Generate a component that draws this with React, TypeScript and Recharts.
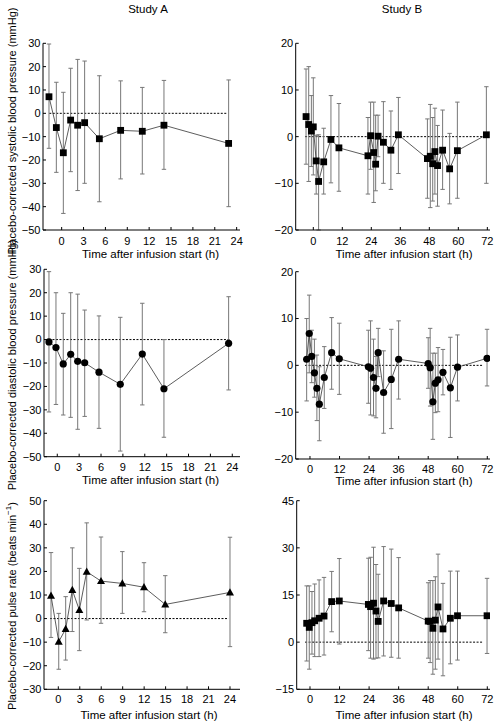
import React from 'react';
import { ComposedChart, Line, XAxis, YAxis, ErrorBar, ReferenceLine } from 'recharts';

// ---------- Study A ----------
const aSysTime = [-1.74, -0.73, 0.23, 1.23, 2.19, 3.15, 5.17, 8.09, 11.06, 14.03, 22.9];
const aSysMean = [7.1, -6.1, -16.9, -2.9, -5.1, -4.0, -10.9, -7.3, -7.7, -5.1, -12.9];
const aSysHigh = [29.7, 13.3, 9.0, 19.3, 23.1, 22.4, 16.1, 13.9, 11.1, 14.1, 14.3];
const aSysLow = [-15.0, -25.3, -42.9, -25.0, -33.1, -30.0, -37.9, -28.1, -26.0, -24.0, -40.0];

const aDiaTime = [-1.14, -0.18, 0.82, 1.84, 2.8, 3.76, 5.72, 8.64, 11.66, 14.63, 23.5];
const aDiaMean = [-1.0, -3.4, -10.4, -6.3, -9.3, -9.9, -13.9, -19.1, -6.2, -21.0, -1.6];
const aDiaHigh = [29.0, 20.0, 11.2, 20.0, 19.4, 12.6, 10.1, 9.5, 15.5, 0.0, 18.3];
const aDiaLow = [-30.9, -27.7, -32.2, -33.2, -38.3, -32.8, -37.9, -47.6, -27.9, -41.7, -21.5];

const aPulTime = [-1.02, 0.06, 1.03, 1.96, 2.94, 3.97, 5.97, 8.95, 11.98, 14.95, 24.0];
const aPulMean = [9.7, -9.8, -4.4, 12.1, 3.6, 19.9, 15.9, 14.9, 13.3, 6.0, 11.1];
const aPulHigh = [28.0, 2.2, 9.3, 30.0, 21.3, 40.6, 34.6, 28.4, 23.7, 18.2, 34.5];
const aPulLow = [-8.0, -21.5, -17.6, -5.5, -13.6, -0.6, -2.0, 2.2, 2.9, -6.0, -11.9];

// ---------- Study B ----------
const bSysTime = [-3.0, -1.9, -0.8, 0, 1.2, 2.2, 4.3, 7.3, 10.6, 22.6, 23.7, 25.0, 25.8, 26.8, 29.0, 32.1, 35.2, 47.2, 48.4, 49.4, 50.3, 51.4, 53.5, 56.4, 59.6, 71.6];
const bSysMean = [4.3, 2.6, 1.2, 2.1, -5.2, -9.6, -5.4, -0.6, -2.4, -4.1, 0.2, -3.4, -5.9, 0.1, -1.2, -2.9, 0.4, -4.7, -4.2, -5.8, -3.2, -6.2, -2.9, -6.9, -3.0, 0.4];
const bSysHigh = [14.5, 15.0, 8.8, 12.6, 0.3, 0.4, 1.8, 8.8, 7.1, 4.1, 7.4, 7.4, 4.6, 4.6, 7.5, 5.5, 8.4, 3.8, 6.9, 4.1, 6.1, 2.4, 5.7, 0.7, 7.4, 10.7];
const bSysLow = [-5.9, -9.6, -6.4, -8.2, -12.3, -20.0, -12.3, -9.9, -11.7, -12.3, -7.0, -14.1, -11.6, -4.3, -10.0, -11.3, -7.9, -13.2, -15.2, -13.8, -12.3, -14.9, -11.3, -14.4, -13.2, -10.0];

const bDiaTime = [-1.35, -0.3, 0.7, 1.8, 2.8, 3.8, 5.8, 8.8, 11.9, 23.7, 24.6, 25.8, 26.8, 27.7, 29.9, 33.0, 36.0, 48.0, 48.8, 49.9, 50.9, 52.0, 54.0, 57.0, 59.9, 71.9];
const bDiaMean = [1.3, 6.8, 1.9, -1.6, -4.9, -8.3, -2.6, 2.7, 1.4, -0.3, -0.6, -2.6, -4.9, 2.7, -5.8, -3.0, 1.3, 0.4, -0.5, -7.8, -3.8, -3.1, -1.5, -4.8, -0.4, 1.5];
const bDiaHigh = [10.0, 15.0, 7.5, 5.6, 2.2, -0.3, 4.0, 10.2, 9.0, 7.5, 9.5, 5.6, 1.9, 7.9, 3.1, 7.7, 9.5, 5.9, 7.9, 2.6, 2.6, 3.8, 3.4, 6.0, 6.5, 7.7];
const bDiaLow = [-7.6, -1.6, -3.7, -6.8, -11.8, -16.1, -9.2, -5.1, -6.2, -8.1, -10.6, -10.8, -11.2, -2.4, -14.5, -13.5, -7.2, -4.9, -8.7, -15.8, -10.1, -9.9, -6.3, -15.4, -7.6, -4.4];

const bPulTime = [-1.35, -0.3, 0.8, 1.9, 3.7, 5.7, 8.8, 11.9, 23.7, 24.6, 25.8, 26.8, 27.7, 29.9, 33.0, 36.0, 48.0, 48.8, 49.9, 50.9, 52.0, 54.0, 57.0, 59.9, 71.9];
const bPulMean = [6.0, 4.7, 6.2, 6.8, 7.6, 8.3, 12.9, 13.1, 12.0, 11.3, 12.4, 9.9, 6.6, 13.1, 12.3, 10.9, 6.7, 6.6, 4.4, 7.0, 11.2, 4.2, 7.6, 8.4, 8.4];
const bPulHigh = [17.9, 17.9, 16.1, 18.5, 19.8, 20.6, 22.5, 26.6, 26.7, 27.0, 30.2, 24.7, 21.6, 30.4, 29.6, 26.9, 18.9, 19.6, 19.6, 20.8, 28.0, 18.7, 22.6, 22.6, 20.3];
const bPulLow = [-6.0, -8.6, -3.8, -4.6, -4.6, -4.1, 3.3, -0.6, -2.7, -5.1, -5.4, -5.1, -5.0, -4.4, -4.8, -5.1, -5.1, -6.5, -10.2, -8.6, -5.4, -10.7, -6.9, -5.7, -3.6];

// ---------- axis ticks ----------
const aXTicks = [0, 3, 6, 9, 12, 15, 18, 21, 24];
const bXTicks = [0, 12, 24, 36, 48, 60, 72];
const bpATicks = [-50, -40, -30, -20, -10, 0, 10, 20, 30];
const pulseATicks = [-30, -20, -10, 0, 10, 20, 30, 40, 50];
const bpBTicks = [-20, -10, 0, 10, 20];
const pulseBTicks = [-15, 0, 15, 30, 45];

const FONT = '"Liberation Sans", Arial, Helvetica, sans-serif';

function build(time: number[], mean: number[], high: number[], low: number[]) {
  return time.map((t, i) => ({ x: t, y: mean[i], err: [mean[i] - low[i], high[i] - mean[i]] }));
}

const fmt = (v: number) => (v < 0 ? '\u2212' + Math.abs(v) : String(v));

type Shape = 'square' | 'circle' | 'triangle';

const makeDot = (shape: Shape) => (props: any) => {
  const { cx, cy, index } = props;
  if (cx == null || cy == null) return <g key={`d${index}`} />;
  if (shape === 'square')
    return <rect key={`d${index}`} x={cx - 3.4} y={cy - 3.4} width={6.8} height={6.8} fill="#000" />;
  if (shape === 'circle') return <circle key={`d${index}`} cx={cx} cy={cy} r={3.6} fill="#000" />;
  return (
    <polygon
      key={`d${index}`}
      points={`${cx},${cy - 4.2} ${cx - 4},${cy + 3} ${cx + 4},${cy + 3}`}
      fill="#000"
    />
  );
};

interface PanelProps {
  left: number;
  top: number;
  width: number;
  height: number;
  margin: { top: number; right: number; bottom: number; left: number };
  xDomain: [number, number];
  xTicks: number[];
  yDomain: [number, number];
  yTicks: number[];
  data: any[];
  shape: Shape;
  seg: [number, number];
  xTickMargin: number;
}

function Panel(p: PanelProps) {
  const tickStyle = { fontSize: 11, fill: '#000', fontFamily: FONT };
  return (
    <div style={{ position: 'absolute', left: p.left, top: p.top, width: p.width, height: p.height }}>
      <ComposedChart width={p.width} height={p.height} data={p.data} margin={p.margin}>
        <XAxis
          dataKey="x"
          type="number"
          domain={p.xDomain}
          ticks={p.xTicks}
          allowDataOverflow
          interval={0}
          height={22}
          tickSize={-3}
          tickMargin={p.xTickMargin}
          tick={tickStyle}
          tickFormatter={fmt}
          stroke="#000"
          axisLine={{ stroke: '#000', strokeWidth: 1 }}
          tickLine={{ stroke: '#000' }}
        />
        <YAxis
          type="number"
          domain={p.yDomain}
          ticks={p.yTicks}
          allowDataOverflow
          interval={0}
          width={40}
          tickSize={-3}
          tickMargin={5.5}
          tick={tickStyle}
          tickFormatter={fmt}
          stroke="#000"
          axisLine={{ stroke: '#000', strokeWidth: 1 }}
          tickLine={{ stroke: '#000' }}
        />
        <ReferenceLine
          segment={[
            { x: p.seg[0], y: 0 },
            { x: p.seg[1], y: 0 },
          ]}
          stroke="#000"
          strokeWidth={1}
          strokeDasharray="2 1.5"
        />
        <Line
          dataKey="y"
          stroke="#333"
          strokeWidth={0.8}
          isAnimationActive={false}
          dot={makeDot(p.shape)}
          activeDot={false}
        >
          <ErrorBar dataKey="err" direction="y" width={2.2} stroke="#777" strokeWidth={1} />
        </Line>
      </ComposedChart>
    </div>
  );
}

export default function App() {
  const aSys = build(aSysTime, aSysMean, aSysHigh, aSysLow);
  const aDia = build(aDiaTime, aDiaMean, aDiaHigh, aDiaLow);
  const aPul = build(aPulTime, aPulMean, aPulHigh, aPulLow);
  const bSys = build(bSysTime, bSysMean, bSysHigh, bSysLow);
  const bDia = build(bDiaTime, bDiaMean, bDiaHigh, bDiaLow);
  const bPul = build(bPulTime, bPulMean, bPulHigh, bPulLow);

  const txt = { fontSize: 11.5, fill: '#000', fontFamily: FONT } as const;
  const ytxt = { fontSize: 11, fill: '#000', fontFamily: FONT } as const;
  const xTitle = 'Time after infusion start (h)';

  return (
    <div style={{ position: 'absolute', left: 0, top: 0, width: 499, height: 725, background: '#fff', overflow: 'hidden' }}>
      <Panel left={0} top={0} width={250} height={262}
        margin={{ top: 43.3, right: 10, bottom: 10, left: 3 }}
        xDomain={[-2.56, 24.46]} xTicks={aXTicks} yDomain={[-50, 30]} yTicks={bpATicks}
        data={aSys} shape="square" seg={[-1.7, 22.6]} xTickMargin={10.5} />
      <Panel left={0} top={262} width={250} height={226}
        margin={{ top: 7.3, right: 10, bottom: 9.3, left: 4 }}
        xDomain={[-1.82, 25.06]} xTicks={aXTicks} yDomain={[-50, 30]} yTicks={bpATicks}
        data={aDia} shape="circle" seg={[-1.14, 23.7]} xTickMargin={9.5} />
      <Panel left={0} top={488} width={250} height={237}
        margin={{ top: 12.7, right: 10, bottom: 13.7, left: 4 }}
        xDomain={[-2.0, 25.4]} xTicks={aXTicks} yDomain={[-30, 50]} yTicks={pulseATicks}
        data={aPul} shape="triangle" seg={[-1.16, 23.8]} xTickMargin={9} />

      <Panel left={250} top={0} width={249} height={262}
        margin={{ top: 43.3, right: 9, bottom: 10, left: 5.7 }}
        xDomain={[-7.28, 73.1]} xTicks={bXTicks} yDomain={[-20, 20]} yTicks={bpBTicks}
        data={bSys} shape="square" seg={[-3.4, 70.3]} xTickMargin={10.5} />
      <Panel left={250} top={262} width={249} height={226}
        margin={{ top: 9.7, right: 9, bottom: 7, left: 5.7 }}
        xDomain={[-5.8, 73.1]} xTicks={bXTicks} yDomain={[-20, 20]} yTicks={bpBTicks}
        data={bDia} shape="circle" seg={[-2.0, 70.4]} xTickMargin={9} />
      <Panel left={250} top={488} width={249} height={237}
        margin={{ top: 12.7, right: 9, bottom: 13.7, left: 6.7 }}
        xDomain={[-5.4, 73.1]} xTicks={bXTicks} yDomain={[-15, 45]} yTicks={pulseBTicks}
        data={bPul} shape="square" seg={[-2.0, 70.4]} xTickMargin={9} />

      <svg width={499} height={725} style={{ position: 'absolute', left: 0, top: 0, pointerEvents: 'none' }}>
        <text x={148} y={13} textAnchor="middle" {...txt}>Study A</text>
        <text x={402} y={13} textAnchor="middle" {...txt}>Study B</text>

        <text x={150.5} y={257.5} textAnchor="middle" {...txt}>{xTitle}</text>
        <text x={404} y={257.5} textAnchor="middle" {...txt}>{xTitle}</text>
        <text x={150.5} y={483.5} textAnchor="middle" {...txt}>{xTitle}</text>
        <text x={404} y={484.5} textAnchor="middle" {...txt}>{xTitle}</text>
        <text x={149} y={718.5} textAnchor="middle" {...txt}>{xTitle}</text>
        <text x={404} y={718.5} textAnchor="middle" {...txt}>{xTitle}</text>

        <text x={15.5} y={131} textAnchor="middle" transform="rotate(-90 15.5 131)" {...ytxt}>
          Placebo-corrected systolic blood pressure (mmHg)
        </text>
        <text x={15.5} y={365} textAnchor="middle" transform="rotate(-90 15.5 365)" {...ytxt}>
          Placebo-corrected diastolic blood pressure (mmHg)
        </text>
        <text x={15.5} y={606} textAnchor="middle" transform="rotate(-90 15.5 606)" {...ytxt}>
          Placebo-corrected pulse rate (beats min
          <tspan fontSize={8} dy={-4.5}>{'\u22121'}</tspan>
          <tspan dy={4.5}>)</tspan>
        </text>
      </svg>
    </div>
  );
}
